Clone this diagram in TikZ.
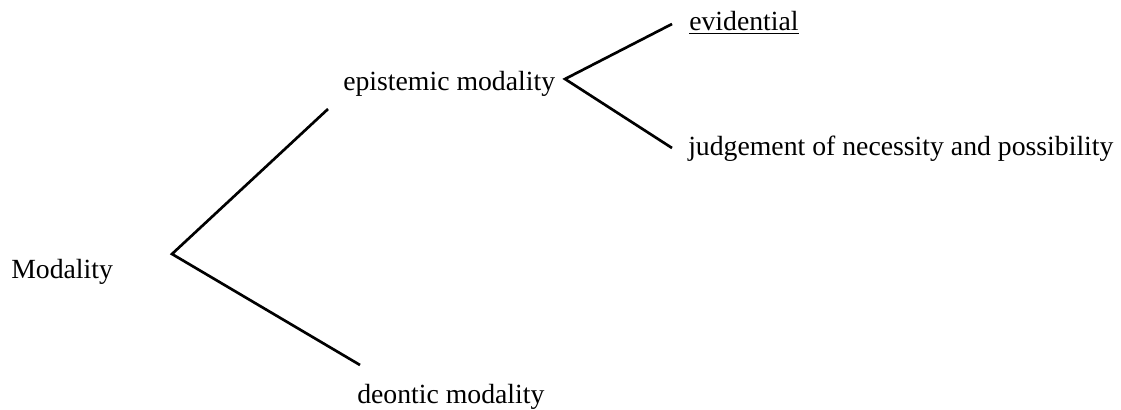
\documentclass[tikz,border=0pt]{standalone}
\usepackage{fontspec}
\setmainfont{Liberation Serif}
\tikzset{
	etichetta/.style={anchor=base west, inner sep=0pt, font=\fontsize{20.8}{24}\selectfont},
	ramo/.style={line width=2pt}
}
\begin{document}
\begin{tikzpicture}[x=0.75pt, y=-0.75pt]
		\useasboundingbox (0, 0) rectangle (1121, 410);
		% etichette
		\node[etichetta] (modality) at (11, 278) {Modality};
		\node[etichetta] (epistemic) at (343, 91) {epistemic modality};
		\node[etichetta] (deontic) at (357, 403) {deontic modality};
		\node[etichetta] (evidential) at (689, 31) {\underline{evidential}};
		\node[etichetta] (judgement) at (688, 155) {judgement of necessity and possibility};
		% punti dei rami
		\coordinate (radice) at (172, 254);
		\coordinate (alto) at (328, 109);
		\coordinate (basso) at (360, 365);
		\coordinate (nodo) at (565, 79);
		\coordinate (evid) at (672, 24);
		\coordinate (giud) at (672, 148);
		% primo livello
		\draw[ramo] (alto) -- (radice) -- (basso);
		% secondo livello
		\draw[ramo] (evid) -- (nodo) -- (giud);
	\end{tikzpicture}
\end{document}
